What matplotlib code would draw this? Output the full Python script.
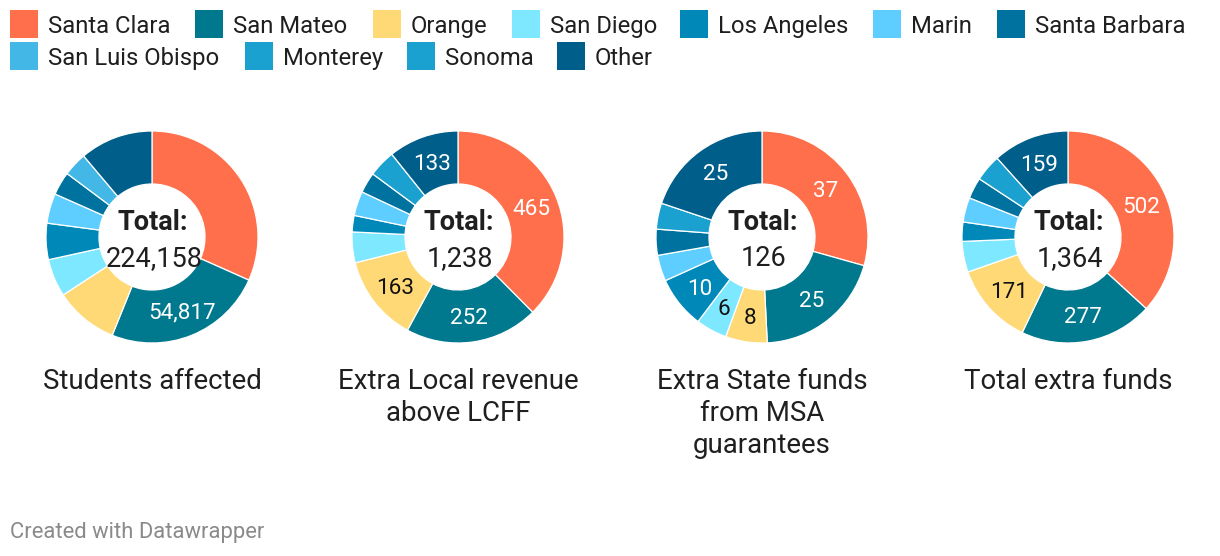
import math
import matplotlib
matplotlib.use("Agg")
import matplotlib.pyplot as plt
from matplotlib.patches import Rectangle

plt.rcParams['font.family'] = ['Roboto', 'DejaVu Sans']

# ---------------- data ----------------
counties = ["Santa Clara", "San Mateo", "Orange", "San Diego", "Los Angeles",
            "Marin", "Santa Barbara", "San Luis Obispo", "Monterey", "Sonoma", "Other"]
colors = ["#ff6f4b", "#00788e", "#ffd976", "#7de8ff", "#0089b8",
          "#5ecdff", "#00729f", "#43b8e6", "#1aa1cf", "#1aa1cf", "#005f8a"]

students_affected = [70991, 54817, 21700, 12900, 12400, 10200, 8000, 8150, 0, 0, 25000]
extra_local = [465, 252, 163, 58, 31, 46, 39, 0, 0, 51, 133]
extra_state = [37, 25, 8, 6, 10, 5, 5, 0, 0, 5, 25]
total_extra = [502, 277, 171, 64, 40, 51, 44, 0, 0, 56, 159]

chart_titles = [["Students affected"],
                ["Extra Local revenue", "above LCFF"],
                ["Extra State funds", "from MSA", "guarantees"],
                ["Total extra funds"]]
series = [students_affected, extra_local, extra_state, total_extra]
# which counties carry a value label in each donut
labeled = [["San Mateo"],
           ["Santa Clara", "San Mateo", "Orange", "Other"],
           ["Santa Clara", "San Mateo", "Orange", "San Diego", "Los Angeles", "Other"],
           ["Santa Clara", "San Mateo", "Orange", "Other"]]
dark_text_counties = ["Orange", "San Diego"]

legend_rows = [["Santa Clara", "San Mateo", "Orange", "San Diego", "Los Angeles", "Marin", "Santa Barbara"],
               ["San Luis Obispo", "Monterey", "Sonoma", "Other"]]

# ---------------- layout ----------------
W, H = 1220, 556
fig = plt.figure(figsize=(W / 100, H / 100), dpi=100)
fig.patch.set_facecolor("white")

ov = fig.add_axes([0, 0, 1, 1])
ov.set_xlim(0, W)
ov.set_ylim(H, 0)
ov.axis("off")

TXT = "#1f1f1f"

# legend
legend_x = [[10, 195, 373, 512, 680, 873, 997], [10, 245, 407, 557]]
legend_y = [10, 42]
for row, xs, y in zip(legend_rows, legend_x, legend_y):
    for name, x in zip(row, xs):
        c = colors[counties.index(name)]
        ov.add_patch(Rectangle((x, y), 28, 28, facecolor=c, edgecolor="none"))
        ov.text(x + 38, y + 23, name, fontsize=17.2, color=TXT, va="baseline", ha="left")

# donuts
centers_x = [152, 458, 762, 1068]
cy = 237
R = 106
ring = 53
box = 112

for vals, cx, title, labs in zip(series, centers_x, chart_titles, labeled):
    ax = fig.add_axes([(cx - box) / W, 1 - (cy + box) / H, 2 * box / W, 2 * box / H])
    names = [n for n, v in zip(counties, vals) if v > 0]
    v = [x for x in vals if x > 0]
    cols = [colors[counties.index(n)] for n in names]
    wedges, _ = ax.pie(v, colors=cols, startangle=90, counterclock=False, radius=R,
                       wedgeprops=dict(width=ring, edgecolor="white", linewidth=0.9),
                       frame=True)
    ax.set_xlim(-box, box)
    ax.set_ylim(-box, box)
    ax.axis("off")
    for w, n, val in zip(wedges, names, v):
        if n in labs:
            ang = math.radians((w.theta1 + w.theta2) / 2)
            r = R - ring / 2
            tc = "#111111" if n in dark_text_counties else "white"
            ax.text(r * math.cos(ang), r * math.sin(ang) - 8, f"{val:,}", fontsize=16.2,
                    color=tc, ha="center", va="baseline")
    tot = sum(vals)
    ax.text(1, 7, "Total:", fontsize=19.5, fontweight="bold", color=TXT, ha="center", va="baseline")
    ax.text(2, -29, f"{tot:,}", fontsize=19.5, color=TXT, ha="center", va="baseline")
    for i, line in enumerate(title):
        ov.text(cx, 389 + 32 * i, line, fontsize=19.9, color=TXT, ha="center", va="baseline")

ov.text(10, 538, "Created with Datawrapper", fontsize=15.8, color="#8a8a8a", ha="left", va="baseline")

fig.savefig("out.png", dpi=100, facecolor="white")
